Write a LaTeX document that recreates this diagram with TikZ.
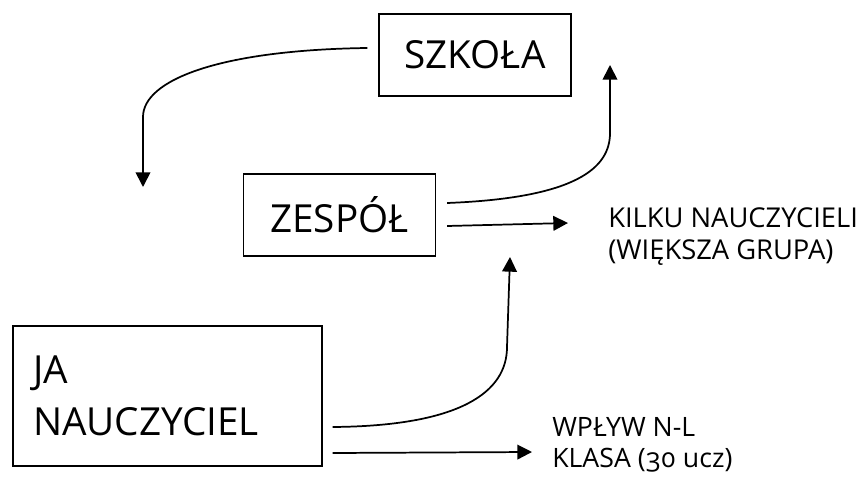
\documentclass[tikz,border=0pt]{standalone}
\usepackage{fontspec}
\setmainfont{Open Sans}[Numbers=OldStyle]
\usetikzlibrary{arrows.meta}

\begin{document}
\begin{tikzpicture}[x=0.75pt, y=-0.75pt,
  box/.style={draw, line width=1pt, minimum width=144pt, minimum height=61.5pt, inner sep=0pt, font=\fontsize{29}{39}\selectfont},
  note/.style={anchor=north west, align=left, inner sep=0pt, font=\fontsize{20.5}{24.5}\selectfont},
  arr/.style={-{Triangle[length=11pt, width=11pt]}, line width=1.3pt}]
\useasboundingbox (0,0) rectangle (860,477);
% boxes
\node (szkola) [box] at (475,55) {SZKOŁA};
\node (zespol) [box] at (339.5,215) {ZESPÓŁ};
\node (ja) [box, minimum width=231.75pt, minimum height=105pt, text width=201.75pt, align=left] at (167.5,396) {JA\\NAUCZYCIEL};
% side texts
\node (kilku) [note] at (608,207) {KILKU NAUCZYCIELI\\(WIĘKSZA GRUPA)};
\node (wplyw) [note, font=\fontsize{20}{23.25}\selectfont] at (552,417) {WPŁYW N-L\\KLASA (30 ucz)};
% free ends
\coordinate (szkolaEnd) at (143,187);
\coordinate (zespolEnd) at (610,65);
\coordinate (jaEnd) at (510,257);
% arrows
\draw [arr] ([shift={(-11,-7)}]szkola.west) .. controls +(-148,2) and +(0,-37) .. ([shift={(0,-70)}]szkolaEnd) -- (szkolaEnd);
\draw [arr] ([shift={(11,-12)}]zespol.east) .. controls +(129,-5) and +(0,35) .. ([shift={(0,68)}]zespolEnd) -- (zespolEnd);
\draw [arr] ([shift={(11,11)}]zespol.east) -- ([shift={(-40,16)}]kilku.north west);
\draw [arr] ([shift={(10,31)}]ja.east) .. controls +(128,-1) and +(0,45) .. ([shift={(-3,90)}]jaEnd) -- (jaEnd);
\draw [arr] ([shift={(10,57)}]ja.east) -- ([shift={(-20,35)}]wplyw.north west);
\end{tikzpicture}
\end{document}
